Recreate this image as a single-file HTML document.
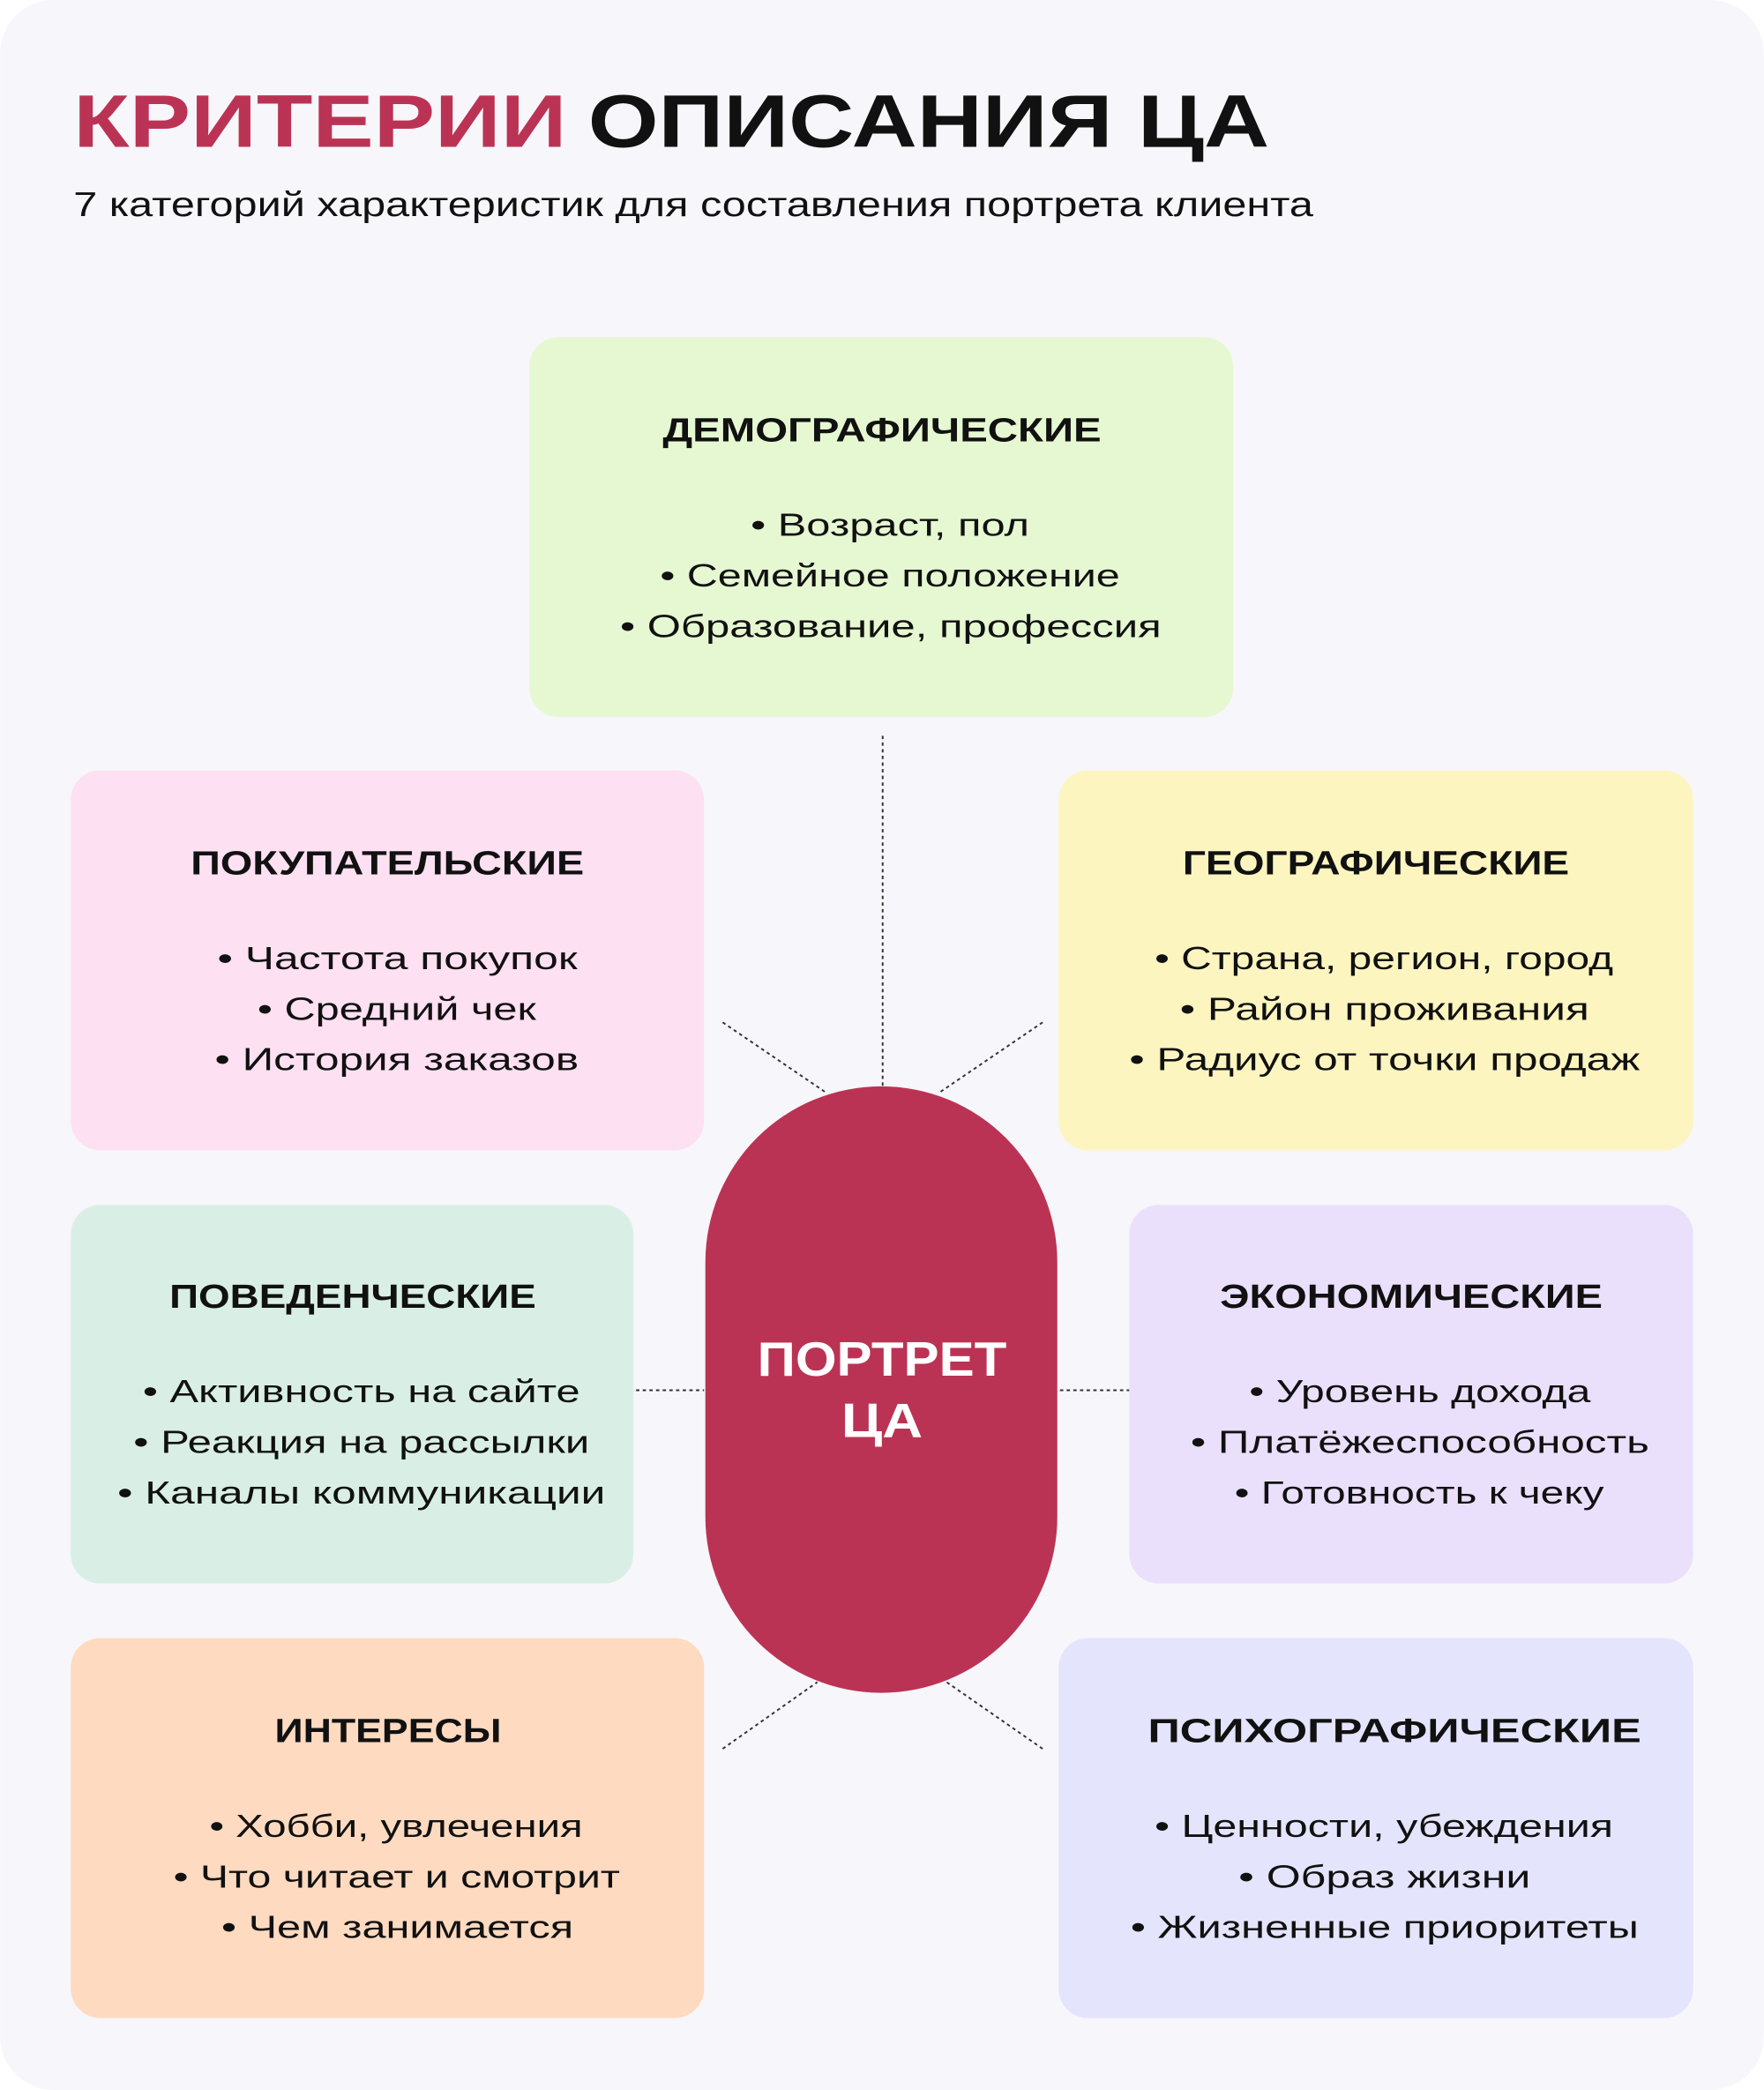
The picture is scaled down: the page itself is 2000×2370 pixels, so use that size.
<!DOCTYPE html>
<html><head><meta charset="utf-8"><style>
html,body{margin:0;padding:0;background:#fff;}
svg{display:block;}
text{font-family:"Liberation Sans",sans-serif;}
.h{font-weight:bold;font-size:25px;fill:#111;}
.b{font-size:24px;fill:#111;}
</style></head><body>
<svg width="2000" height="2370" viewBox="0 0 1323 1568" xmlns="http://www.w3.org/2000/svg">
<rect x="0" y="0" width="1323" height="1568" rx="40" fill="#f7f6fa"/>
<text x="55" y="110" font-size="56" font-weight="bold" fill="#bb3354" textLength="370" lengthAdjust="spacingAndGlyphs">КРИТЕРИИ</text>
<text x="441" y="110" font-size="56" font-weight="bold" fill="#111" textLength="511" lengthAdjust="spacingAndGlyphs">ОПИСАНИЯ ЦА</text>
<text x="55" y="162" font-size="26" fill="#111" textLength="930" lengthAdjust="spacingAndGlyphs">7 категорий характеристик для составления портрета клиента</text>

<g stroke="#333" stroke-width="1.3" stroke-dasharray="2.5 2.5" fill="none">
<line x1="662" y1="552" x2="662" y2="815"/>
<line x1="542" y1="767" x2="620" y2="820"/>
<line x1="782" y1="767" x2="704" y2="820"/>
<line x1="477" y1="1043" x2="528" y2="1043"/>
<line x1="795" y1="1043" x2="847" y2="1043"/>
<line x1="542" y1="1312" x2="613" y2="1262"/>
<line x1="782" y1="1312" x2="710" y2="1262"/>
</g>

<rect x="397" y="253" width="528" height="285" rx="22" fill="#e6f8d2"/>
<rect x="53" y="578" width="475" height="285" rx="22" fill="#fde0f2"/>
<rect x="794" y="578" width="476" height="285" rx="22" fill="#fdf5c0"/>
<rect x="53" y="904" width="422" height="284" rx="22" fill="#d9efe6"/>
<rect x="847" y="904" width="423" height="284" rx="22" fill="#ebe0fc"/>
<rect x="53" y="1229" width="475" height="285" rx="22" fill="#fedac0"/>
<rect x="794" y="1229" width="476" height="285" rx="22" fill="#e4e4fc"/>
<rect x="529" y="815" width="264" height="455" rx="132" fill="#bb3354"/>
<text x="568" y="1032" font-size="36" font-weight="bold" fill="#fff" textLength="187" lengthAdjust="spacingAndGlyphs">ПОРТРЕТ</text>
<text x="631" y="1078" font-size="36" font-weight="bold" fill="#fff" textLength="61" lengthAdjust="spacingAndGlyphs">ЦА</text>

<text class="h" x="497" y="331" textLength="329" lengthAdjust="spacingAndGlyphs">ДЕМОГРАФИЧЕСКИЕ</text>
<text class="b" x="563" y="402" textLength="209" lengthAdjust="spacingAndGlyphs">•  Возраст, пол</text>
<text class="b" x="495" y="440" textLength="345" lengthAdjust="spacingAndGlyphs">•  Семейное положение</text>
<text class="b" x="465" y="478" textLength="406" lengthAdjust="spacingAndGlyphs">•  Образование, профессия</text>

<text class="h" x="143" y="656" textLength="295" lengthAdjust="spacingAndGlyphs">ПОКУПАТЕЛЬСКИЕ</text>
<text class="b" x="163" y="727" textLength="270" lengthAdjust="spacingAndGlyphs">•  Частота покупок</text>
<text class="b" x="193" y="765" textLength="209" lengthAdjust="spacingAndGlyphs">•  Средний чек</text>
<text class="b" x="161" y="803" textLength="273" lengthAdjust="spacingAndGlyphs">•  История заказов</text>

<text class="h" x="887" y="656" textLength="290" lengthAdjust="spacingAndGlyphs">ГЕОГРАФИЧЕСКИЕ</text>
<text class="b" x="866" y="727" textLength="344" lengthAdjust="spacingAndGlyphs">•  Страна, регион, город</text>
<text class="b" x="885" y="765" textLength="307" lengthAdjust="spacingAndGlyphs">•  Район проживания</text>
<text class="b" x="847" y="803" textLength="383" lengthAdjust="spacingAndGlyphs">•  Радиус от точки продаж</text>

<text class="h" x="127" y="981" textLength="275" lengthAdjust="spacingAndGlyphs">ПОВЕДЕНЧЕСКИЕ</text>
<text class="b" x="107" y="1052" textLength="328" lengthAdjust="spacingAndGlyphs">•  Активность на сайте</text>
<text class="b" x="100" y="1090" textLength="342" lengthAdjust="spacingAndGlyphs">•  Реакция на рассылки</text>
<text class="b" x="88" y="1128" textLength="366" lengthAdjust="spacingAndGlyphs">•  Каналы коммуникации</text>

<text class="h" x="915" y="981" textLength="287" lengthAdjust="spacingAndGlyphs">ЭКОНОМИЧЕСКИЕ</text>
<text class="b" x="937" y="1052" textLength="256" lengthAdjust="spacingAndGlyphs">•  Уровень дохода</text>
<text class="b" x="893" y="1090" textLength="344" lengthAdjust="spacingAndGlyphs">•  Платёжеспособность</text>
<text class="b" x="926" y="1128" textLength="277" lengthAdjust="spacingAndGlyphs">•  Готовность к чеку</text>

<text class="h" x="206" y="1307" textLength="170" lengthAdjust="spacingAndGlyphs">ИНТЕРЕСЫ</text>
<text class="b" x="157" y="1378" textLength="280" lengthAdjust="spacingAndGlyphs">•  Хобби, увлечения</text>
<text class="b" x="130" y="1416" textLength="335" lengthAdjust="spacingAndGlyphs">•  Что читает и смотрит</text>
<text class="b" x="166" y="1454" textLength="264" lengthAdjust="spacingAndGlyphs">•  Чем занимается</text>

<text class="h" x="861" y="1307" textLength="370" lengthAdjust="spacingAndGlyphs">ПСИХОГРАФИЧЕСКИЕ</text>
<text class="b" x="866" y="1378" textLength="344" lengthAdjust="spacingAndGlyphs">•  Ценности, убеждения</text>
<text class="b" x="929" y="1416" textLength="219" lengthAdjust="spacingAndGlyphs">•  Образ жизни</text>
<text class="b" x="848" y="1454" textLength="381" lengthAdjust="spacingAndGlyphs">•  Жизненные приоритеты</text>
</svg>
</body></html>
